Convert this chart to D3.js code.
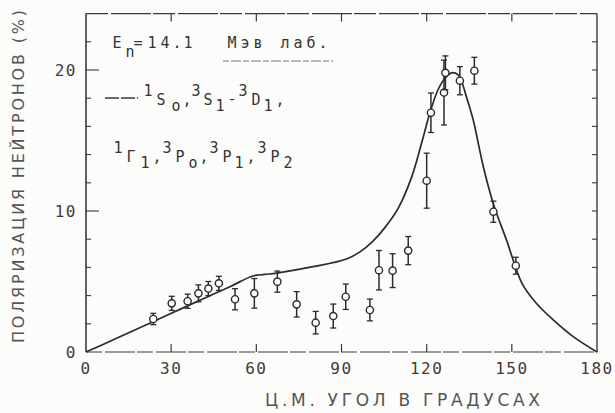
<!DOCTYPE html>
<html>
<head>
<meta charset="utf-8">
<script src="https://cdn.jsdelivr.net/npm/d3@7"></script>
<style>
  html, body { margin: 0; padding: 0; background: #fcfcfb; }
  svg { display: block; }
</style>
</head>
<body>
<svg id="chart" width="615" height="413"></svg>
<script>
"use strict";

// measured points (c.m. angle, polarization %, error)
var angles = [23.7, 30.2, 35.8, 39.6, 43.1, 46.8, 52.5, 59.3, 67.4, 74.2, 80.9, 87.1, 91.5, 100, 103.2, 108, 113.5, 120, 121.5, 126.1, 126.6, 131.7, 136.8, 143.5, 151.4];
var polar  = [2.34, 3.45, 3.6, 4.16, 4.5, 4.87, 3.74, 4.16, 4.99, 3.38, 2.08, 2.55, 3.92, 2.98, 5.8, 5.77, 7.19, 12.15, 16.97, 18.4, 19.8, 19.24, 19.95, 9.95, 6.12];
var errors = [0.4, 0.5, 0.5, 0.6, 0.5, 0.5, 0.75, 1.05, 0.75, 0.9, 0.8, 0.85, 0.9, 0.77, 1.4, 1.2, 1.0, 1.95, 1.4, 2.3, 1.2, 1.0, 0.95, 0.75, 0.6];

// phase-shift fit curve
var curveAngles = [0, 10, 23.6, 35, 50.7, 58.8, 63, 67.2, 80, 91.8, 96.5, 101, 105, 110, 114.7, 118.2, 121.2, 124, 126.4, 128.8, 131.1, 132.3, 134, 136.4, 140, 143.5, 148.2, 153.5, 158, 164.6, 171.6, 180];
var curveValues = [0, 0.9, 2.15, 3.2, 4.63, 5.39, 5.5, 5.6, 6.05, 6.6, 7.1, 7.85, 8.75, 10.2, 12.4, 14.8, 17.0, 18.6, 19.4, 19.8, 19.65, 19.2, 18.1, 16.45, 13.1, 10.5, 7.9, 4.9, 3.6, 2.27, 1.09, 0];

var xTicks = [0, 30, 60, 90, 120, 150, 180];
var yTicks = [0, 10, 20];
var yMinor = d3.range(0, 25, 2);

var ink = "#2b2b2b";
var svg = d3.select("#chart");

var x = d3.scaleLinear().domain([0, 180]).range([86, 597]);
var y = d3.scaleLinear().domain([0, 24]).range([352, 13.6]);

/* frame */
var frame = svg.append("g").attr("stroke", "#3a3a3a").attr("fill", "none");
frame.append("line").attr("x1", x(0)).attr("x2", x(0)).attr("y1", y(0)).attr("y2", y(24)).attr("stroke-width", 1.6);
frame.append("line").attr("x1", x(180)).attr("x2", x(180)).attr("y1", y(0)).attr("y2", y(24)).attr("stroke-width", 1.4);
frame.append("line").attr("x1", x(0)).attr("x2", x(180)).attr("y1", y(0)).attr("y2", y(0))
    .attr("stroke-width", 1.1).attr("stroke-dasharray", "16 3 30 2");
frame.append("line").attr("x1", x(0)).attr("x2", x(180)).attr("y1", y(24)).attr("y2", y(24))
    .attr("stroke-width", 1.1).attr("stroke-dasharray", "22 3 40 2");

// x ticks, bottom (pointing up) and top (pointing down)
xTicks.slice(1, -1).forEach(function(t){
    frame.append("line").attr("x1", x(t)).attr("x2", x(t)).attr("y1", y(0)).attr("y2", y(0) - 8).attr("stroke-width", 1.2);
    frame.append("line").attr("x1", x(t)).attr("x2", x(t)).attr("y1", y(24)).attr("y2", y(24) + 8).attr("stroke-width", 1.2);
});

// y ticks, left and right, every 2 %
yMinor.slice(1, -1).forEach(function(t){
    var major = (t % 10 === 0);
    frame.append("line").attr("x1", x(0)).attr("x2", x(0) + (major ? 13 : 5))
        .attr("y1", y(t)).attr("y2", y(t)).attr("stroke-width", 1.1);
    frame.append("line").attr("x1", x(180)).attr("x2", x(180) - 5)
        .attr("y1", y(t)).attr("y2", y(t)).attr("stroke-width", 1.1);
});

/* tick labels */
var tickFont = "'DejaVu Sans Mono', monospace";
svg.append("g").selectAll("text").data(xTicks).join("text")
    .attr("x", function(d){ return x(d); })
    .attr("y", 374)
    .attr("text-anchor", "middle")
    .attr("font-family", tickFont).attr("font-size", 16)
    .attr("letter-spacing", 1.5)
    .attr("fill", "#3c3c3c")
    .text(function(d){ return d; });

svg.append("g").selectAll("text").data(yTicks).join("text")
    .attr("x", 77)
    .attr("y", function(d){ return y(d) + 6; })
    .attr("text-anchor", "end")
    .attr("font-family", tickFont).attr("font-size", 16)
    .attr("letter-spacing", 1.5)
    .attr("fill", "#3c3c3c")
    .text(function(d){ return d; });

/* axis titles */
svg.append("text")
    .attr("x", 265).attr("y", 406)
    .attr("textLength", 275).attr("lengthAdjust", "spacing")
    .attr("font-family", "'DejaVu Sans', sans-serif").attr("font-size", 17)
    .attr("fill", "#555")
    .text("Ц.М. УГОЛ В ГРАДУСАХ");

svg.append("text")
    .attr("transform", "translate(24,343) rotate(-90)")
    .attr("textLength", 333).attr("lengthAdjust", "spacing")
    .attr("font-family", "'DejaVu Sans', sans-serif").attr("font-size", 16)
    .attr("fill", "#555")
    .text("ПОЛЯРИЗАЦИЯ НЕЙТРОНОВ (%)");

/* fit curve */
var line = d3.line()
    .x(function(d){ return x(d[0]); })
    .y(function(d){ return y(d[1]); })
    .curve(d3.curveCatmullRom.alpha(0.5));

svg.append("path")
    .datum(d3.zip(curveAngles, curveValues))
    .attr("d", line)
    .attr("fill", "none")
    .attr("stroke", ink)
    .attr("stroke-width", 1.7);

/* data points with error bars */
var pts = svg.append("g").selectAll("g").data(d3.range(angles.length)).join("g");
pts.append("line")
    .attr("x1", function(i){ return x(angles[i]); })
    .attr("x2", function(i){ return x(angles[i]); })
    .attr("y1", function(i){ return y(polar[i] - errors[i]); })
    .attr("y2", function(i){ return y(polar[i] + errors[i]); })
    .attr("stroke", ink).attr("stroke-width", 1.5);
[-1, 1].forEach(function(s){
    pts.append("line")
        .attr("x1", function(i){ return x(angles[i]) - 3; })
        .attr("x2", function(i){ return x(angles[i]) + 3; })
        .attr("y1", function(i){ return y(polar[i] + s * errors[i]); })
        .attr("y2", function(i){ return y(polar[i] + s * errors[i]); })
        .attr("stroke", ink).attr("stroke-width", 1.3);
});
pts.append("circle")
    .attr("cx", function(i){ return x(angles[i]); })
    .attr("cy", function(i){ return y(polar[i]); })
    .attr("r", 3.6)
    .attr("fill", "#fcfcfb")
    .attr("stroke", ink).attr("stroke-width", 1.4);

/* legend text, typewriter style */
var legFont = "'DejaVu Sans Mono', monospace";
function glyphs(list){
    var g = svg.append("g")
        .attr("font-family", legFont).attr("font-size", 15)
        .attr("fill", "#333").attr("text-anchor", "middle");
    list.forEach(function(c){
        g.append("text").attr("x", c[1]).attr("y", c[2]).text(c[0]);
    });
}

glyphs([
    ["E", 117, 48], ["n", 130, 57], ["=", 138, 48], ["1", 152, 48], ["4", 165, 48],
    [".", 177, 48], ["1", 188, 48],
    ["М", 232, 48], ["э", 245, 48], ["в", 258, 48],
    ["л", 285, 48], ["а", 298, 48], ["б", 311, 48], [".", 323, 48]
]);
svg.append("line").attr("x1", 223).attr("x2", 333).attr("y1", 61).attr("y2", 61)
    .attr("stroke", "#777").attr("stroke-width", 1).attr("stroke-dasharray", "6 2 10 2");

svg.append("line").attr("x1", 105).attr("x2", 138).attr("y1", 98).attr("y2", 98)
    .attr("stroke", "#333").attr("stroke-width", 1.3).attr("stroke-dasharray", "14 2");
glyphs([
    ["1", 148, 96], ["S", 161, 105], ["o", 176, 111], [",", 187, 105],
    ["3", 196, 96], ["S", 208, 105], ["1", 220, 111], ["-", 232, 104],
    ["3", 243, 96], ["D", 256, 105], ["1", 268, 111], [",", 280, 105]
]);

glyphs([
    ["1", 118, 153], ["Г", 131, 162], ["1", 145, 168], [",", 157, 162],
    ["3", 167, 153], ["P", 180, 162], ["o", 193, 168], [",", 204, 162],
    ["3", 214, 153], ["P", 227, 162], ["1", 239, 168], [",", 251, 162],
    ["3", 262, 153], ["P", 275, 162], ["2", 288, 168]
]);
</script>
</body>
</html>
